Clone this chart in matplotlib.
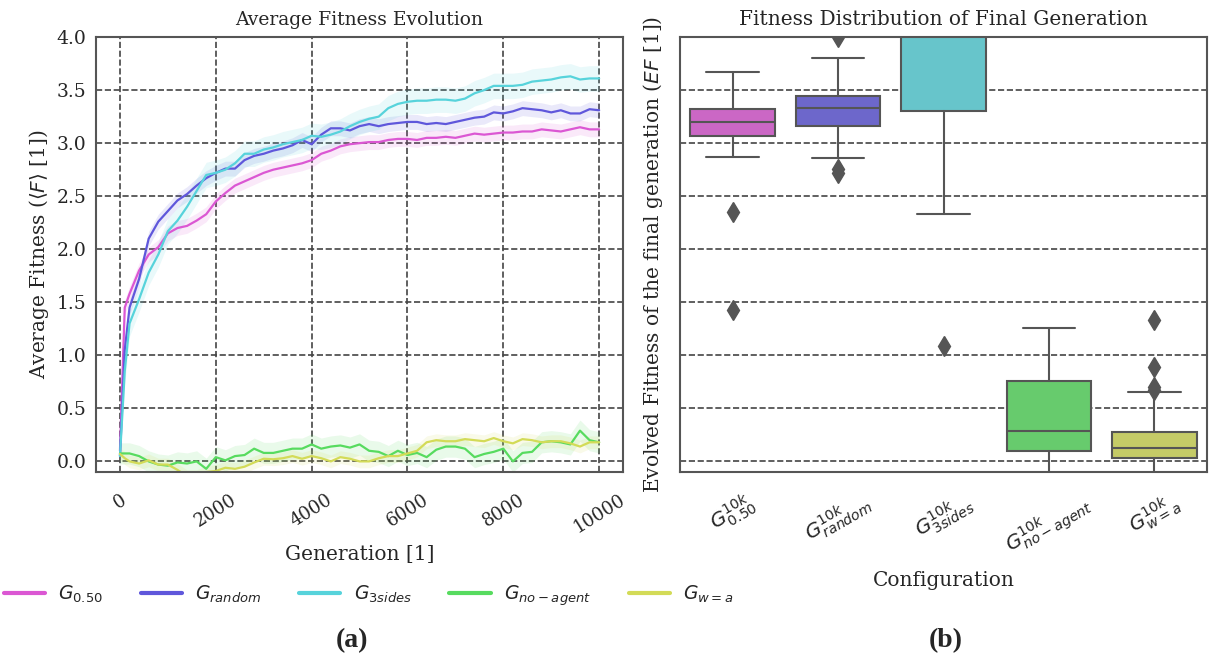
import matplotlib
matplotlib.use("Agg")
import matplotlib.pyplot as plt
import seaborn as sns

# generations at which the population mean was logged
gens = [0, 100, 200, 400, 600, 800, 1000,
        1200, 1400, 1600, 1800, 2000,
        2200, 2400, 2600, 2800, 3000,
        3200, 3400, 3600, 3800, 4000,
        4200, 4400, 4600, 4800, 5000,
        5200, 5400, 5600, 5800, 6000,
        6200, 6400, 6600, 6800, 7000,
        7200, 7400, 7600, 7800, 8000,
        8200, 8400, 8600, 8800, 9000,
        9200, 9400, 9600, 9800, 10000]

fit_050 = [0.10, 1.45, 1.58, 1.80, 1.95, 2.02, 2.15,
           2.20, 2.22, 2.27, 2.33, 2.45,
           2.53, 2.60, 2.64, 2.68, 2.72,
           2.75, 2.77, 2.79, 2.81, 2.84,
           2.90, 2.93, 2.97, 2.99, 3.00,
           3.01, 3.01, 3.03, 3.04, 3.04,
           3.03, 3.05, 3.05, 3.06, 3.05,
           3.07, 3.09, 3.08, 3.09, 3.10,
           3.10, 3.11, 3.11, 3.13, 3.12,
           3.11, 3.13, 3.15, 3.13, 3.13]

fit_random = [0.05, 1.05, 1.45, 1.72, 2.10, 2.26, 2.36,
              2.46, 2.52, 2.60, 2.67, 2.72,
              2.76, 2.76, 2.84, 2.88, 2.90,
              2.93, 2.95, 2.98, 3.03, 2.99,
              3.08, 3.14, 3.14, 3.12, 3.16,
              3.18, 3.16, 3.18, 3.19, 3.20,
              3.20, 3.18, 3.19, 3.18, 3.20,
              3.22, 3.24, 3.25, 3.29, 3.28,
              3.30, 3.33, 3.32, 3.31, 3.29,
              3.31, 3.28, 3.28, 3.32, 3.31]

fit_3sides = [0.05, 0.85, 1.30, 1.53, 1.78, 1.95, 2.17,
              2.27, 2.40, 2.55, 2.70, 2.72,
              2.75, 2.81, 2.90, 2.90, 2.94,
              2.96, 2.99, 3.01, 3.03, 3.07,
              3.06, 3.08, 3.11, 3.16, 3.20,
              3.23, 3.25, 3.33, 3.37, 3.39,
              3.40, 3.40, 3.41, 3.41, 3.40,
              3.42, 3.47, 3.50, 3.54, 3.54,
              3.54, 3.55, 3.58, 3.59, 3.60,
              3.62, 3.63, 3.60, 3.61, 3.61]

fit_noagent = [0.075, 0.075, 0.075, 0.05, 0.00, -0.03, -0.04,
               -0.01, -0.02, 0.00, -0.07, 0.04,
               0.01, 0.05, 0.06, 0.12, 0.08,
               0.08, 0.10, 0.12, 0.12, 0.16,
               0.12, 0.14, 0.15, 0.13, 0.16,
               0.10, 0.09, 0.05, 0.10, 0.06,
               0.08, 0.04, 0.11, 0.14, 0.14,
               0.12, 0.04, 0.07, 0.09, 0.12,
               0.00, 0.08, 0.09, 0.18, 0.19,
               0.18, 0.16, 0.29, 0.20, 0.18]

fit_wa = [0.07, 0.03, 0.00, -0.02, 0.01, -0.03, -0.03,
          -0.08, -0.14, -0.14, -0.10, -0.09,
          -0.06, -0.07, -0.05, -0.01, 0.025,
          0.02, 0.03, 0.05, 0.025, 0.05,
          0.03, 0.00, 0.04, 0.025, 0.00,
          0.00, 0.03, 0.05, 0.05, 0.075,
          0.10, 0.18, 0.20, 0.19, 0.19,
          0.21, 0.20, 0.19, 0.22, 0.19,
          0.17, 0.21, 0.20, 0.18, 0.19,
          0.19, 0.17, 0.14, 0.18, 0.18]

series = [fit_050, fit_random, fit_3sides, fit_noagent, fit_wa]
legend_labels = [r"$G_{0.50}$", r"$G_{random}$", r"$G_{3sides}$",
                 r"$G_{no-agent}$", r"$G_{w=a}$"]
# half-width of the shaded confidence band per configuration
band = [0.07, 0.07, 0.12, 0.10, 0.06]

# final generation summary per configuration
box_labels = [r"$G^{10k}_{0.50}$", r"$G^{10k}_{random}$", r"$G^{10k}_{3sides}$",
              r"$G^{10k}_{no-agent}$", r"$G^{10k}_{w=a}$"]
q1 = [3.07, 3.16, 3.30, 0.10, 0.03]
med = [3.20, 3.33, 4.10, 0.29, 0.13]
q3 = [3.32, 3.44, 4.40, 0.76, 0.28]
whislo = [2.87, 2.86, 2.33, -0.30, -0.20]
whishi = [3.67, 3.80, 5.00, 1.26, 0.65]
fliers = [[2.35, 1.43], [2.76, 2.72, 4.00], [1.09], [], [1.33, 0.89, 0.70, 0.67]]

sns.set_style("white")
plt.rcParams["font.family"] = ["DejaVu Serif"]

hls = sns.color_palette("hls", 6)
colors = [hls[5], hls[4], hls[3], hls[2], hls[1]]
edge = "#555555"

fig = plt.figure(figsize=(12.09, 6.62), dpi=100)
ax1 = fig.add_axes([0.0794, 0.287, 0.436, 0.657])
ax2 = fig.add_axes([0.5624, 0.287, 0.436, 0.657])

# left: mean fitness over generations
for vals, c, lab, hw in zip(series, colors, legend_labels, band):
    lo = [v - hw for v in vals]
    hi = [v + hw for v in vals]
    ax1.fill_between(gens, lo, hi, color=c, alpha=0.13, lw=0)
    ax1.plot(gens, vals, color=c, lw=1.6, label=lab)

ax1.set_xlim(-500, 10500)
ax1.set_ylim(-0.1, 4.0)
ax1.set_xticks([0, 2000, 4000, 6000, 8000, 10000])
ax1.set_yticks([0.0, 0.5, 1.0, 1.5, 2.0, 2.5, 3.0, 3.5, 4.0])
ax1.grid(True, ls="--", color="#444444", lw=1.2)
ax1.tick_params(axis="x", labelrotation=32, labelsize=13, pad=10)
ax1.tick_params(axis="y", labelsize=13.5)
ax1.set_title("Average Fitness Evolution", fontsize=13.5, pad=9)
ax1.set_xlabel("Generation [1]", fontsize=14.5, labelpad=6)
ax1.set_ylabel(r"Average Fitness ($\langle F \rangle$ [1])", fontsize=14.5)

# right: distribution at the last generation
stats = []
for i in range(5):
    stats.append({"med": med[i], "q1": q1[i], "q3": q3[i],
                  "whislo": whislo[i], "whishi": whishi[i],
                  "fliers": fliers[i]})
bp = ax2.bxp(stats, positions=range(5), widths=0.8, capwidths=0.5,
             patch_artist=True, showfliers=True,
             boxprops=dict(edgecolor=edge, lw=1.5),
             medianprops=dict(color=edge, lw=1.5),
             whiskerprops=dict(color=edge, lw=1.5),
             capprops=dict(color=edge, lw=1.5),
             flierprops=dict(marker="d", markerfacecolor=edge,
                             markeredgecolor=edge, markersize=10))
for patch, c in zip(bp["boxes"], colors):
    patch.set_facecolor(sns.desaturate(c, 0.75))

ax2.set_xlim(-0.5, 4.5)
ax2.set_ylim(-0.1, 4.0)
ax2.set_yticks([0.0, 0.5, 1.0, 1.5, 2.0, 2.5, 3.0, 3.5, 4.0])
ax2.set_yticklabels([])
ax2.set_xticks(range(5))
ax2.set_xticklabels(box_labels)
ax2.yaxis.grid(True, ls="--", color="#444444", lw=1.2)
ax2.xaxis.grid(False)
ax2.tick_params(axis="x", labelrotation=30, labelsize=14.5, pad=8)
ax2.set_title("Fitness Distribution of Final Generation", fontsize=14.5, pad=9)
ax2.set_xlabel("Configuration", fontsize=14.5, labelpad=6)
ax2.set_ylabel(r"Evolved Fitness of the final generation ($EF$ [1])",
               fontsize=14.5, labelpad=4)

for ax in (ax1, ax2):
    for s in ax.spines.values():
        s.set_color(edge)
        s.set_linewidth(1.5)

leg = fig.legend(*ax1.get_legend_handles_labels(), loc="center",
                 bbox_to_anchor=(0.305, 0.10), ncol=5, frameon=False,
                 fontsize=13.5, handlelength=2.2, handletextpad=0.7,
                 columnspacing=2.0)
for line in leg.get_lines():
    line.set_linewidth(3)

fig.text(0.291, 0.033, "(a)", fontsize=20, fontweight="bold",
         family="Liberation Serif", ha="center", va="center")
fig.text(0.782, 0.033, "(b)", fontsize=20, fontweight="bold",
         family="Liberation Serif", ha="center", va="center")

fig.savefig("out.png", dpi=100)
